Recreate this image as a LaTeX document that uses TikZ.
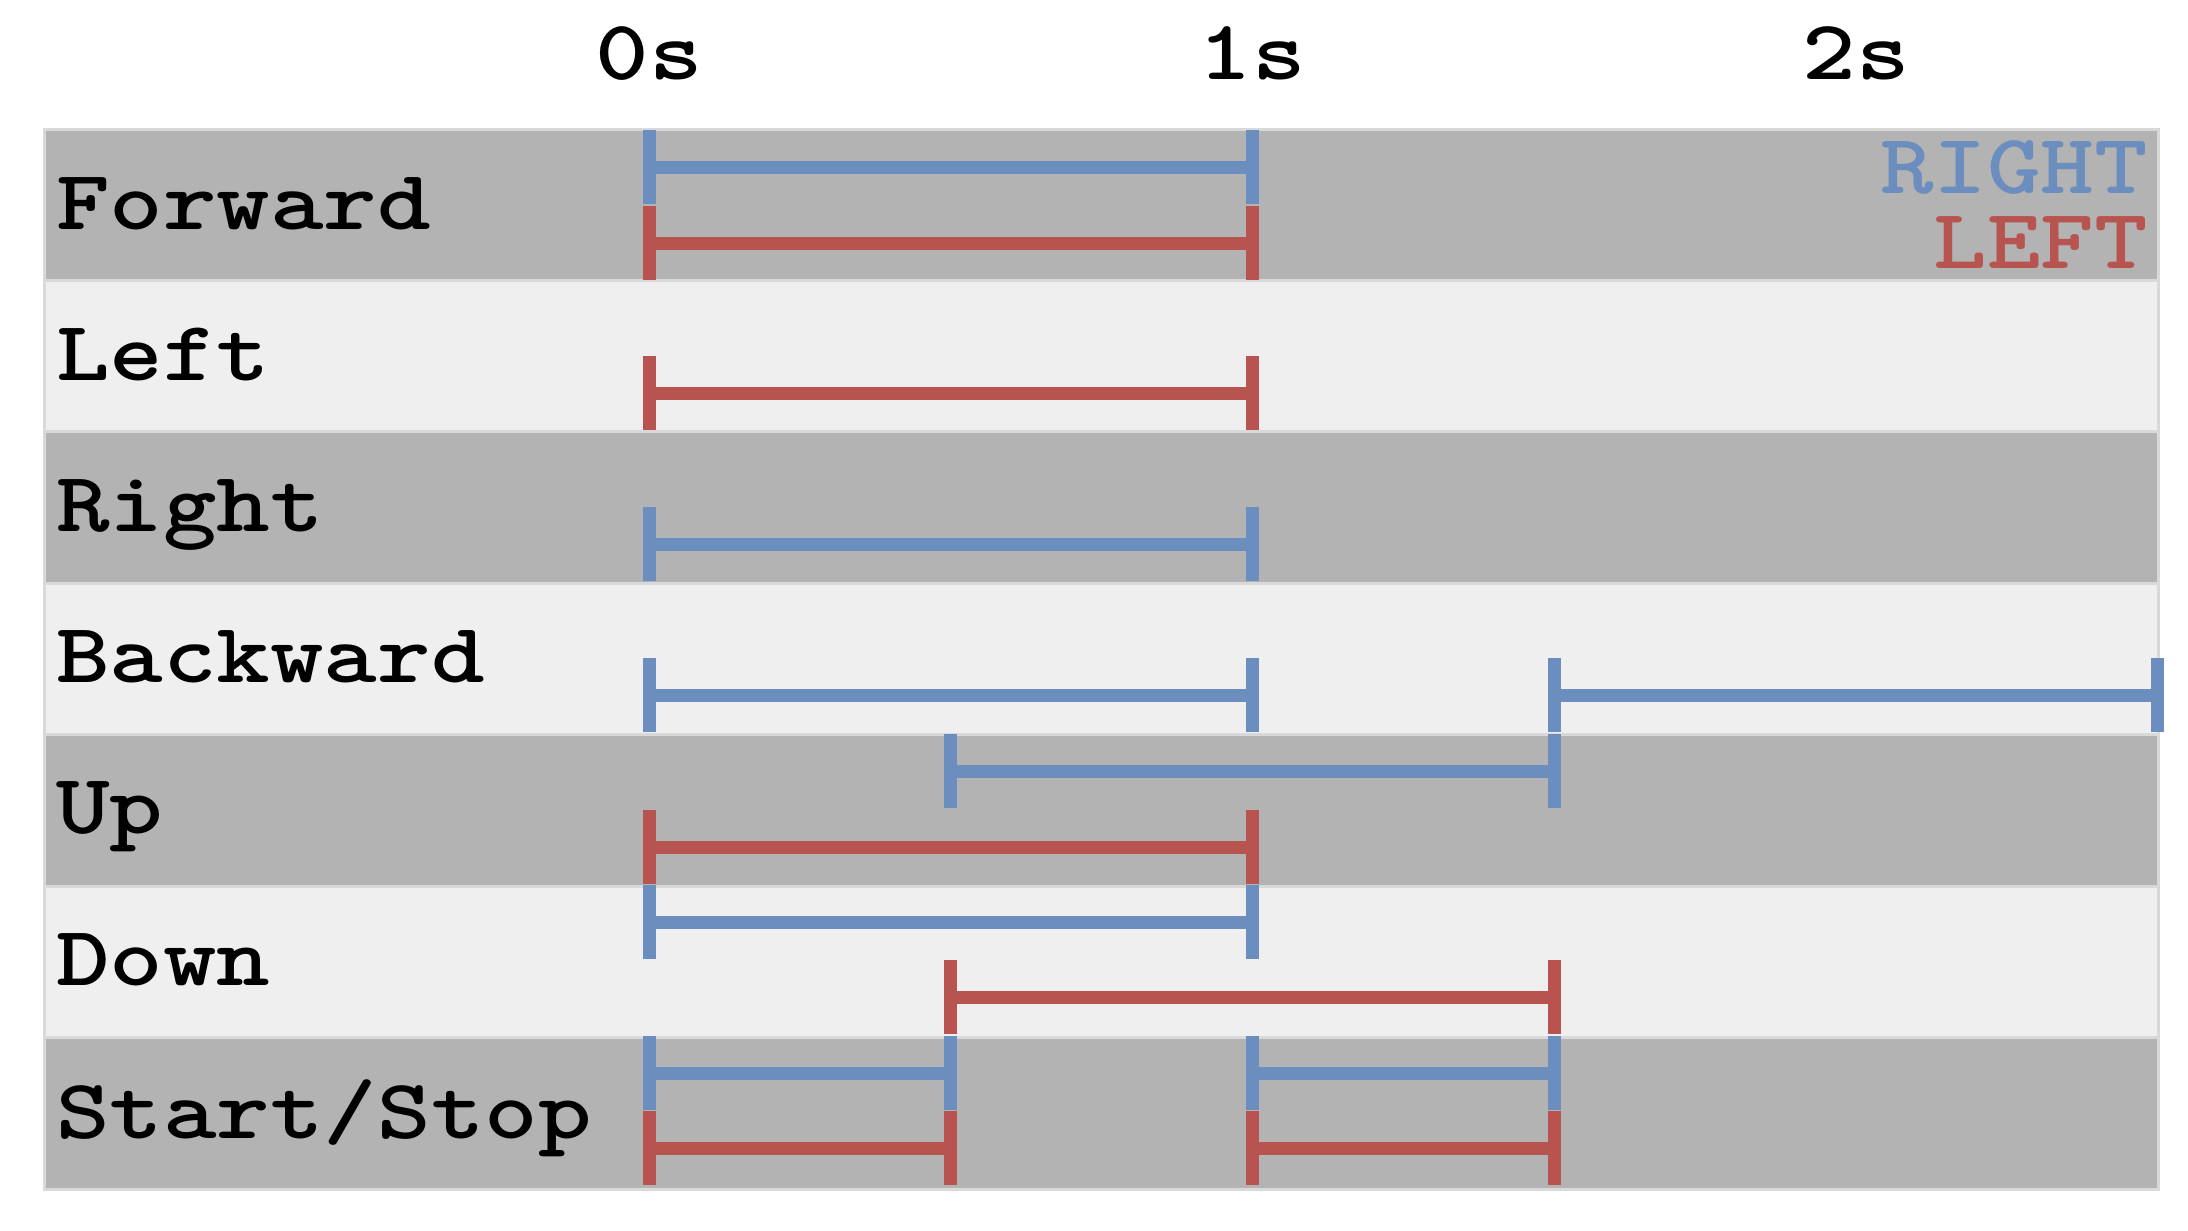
\documentclass[tikz,border=0pt]{standalone}
\usepackage{fontspec}
\usepackage{tikz}
\newfontfamily\chartfont{lmmonolt10-bold.otf}[FakeStretch=1.2]
\definecolor{rightblue}{HTML}{6C8EBF}
\definecolor{leftred}{HTML}{B85450}
\definecolor{banddark}{HTML}{B3B3B3}
\definecolor{bandlight}{HTML}{EFEFEF}
\definecolor{bandedge}{HTML}{D9D9D9}
% time origin and pixels per second
\newcommand{\tz}{649}
\newcommand{\ts}{603.5}
% one interval: style, lane y, start, end (in s)
\newcommand{\tbar}[4]{%
\draw[#1] (\tz+#3*\ts,#2) -- (\tz+#4*\ts,#2);
\draw[#1] (\tz+#3*\ts,#2-37) -- (\tz+#3*\ts,#2+37);
\draw[#1] (\tz+#4*\ts,#2-37) -- (\tz+#4*\ts,#2+37);}

\begin{document}
\begin{tikzpicture}[x=1pt,y=-1pt,
  label/.style={font=\chartfont\fontsize{85}{95}\selectfont,inner sep=0pt},
  darkband/.style={fill=banddark,draw=bandedge,line width=3pt},
  lightband/.style={fill=bandlight,draw=bandedge,line width=3pt},
  rightbar/.style={draw=rightblue,line width=13pt},
  leftbar/.style={draw=leftred,line width=13pt}]
\useasboundingbox[fill=white] (0,0) rectangle (2188,1231);
% Drawing bands
\filldraw[darkband] (44,129.0) rectangle (2158,280.4);
\filldraw[lightband] (44,280.4) rectangle (2158,431.9);
\filldraw[darkband] (44,431.9) rectangle (2158,583.3);
\filldraw[lightband] (44,583.3) rectangle (2158,734.7);
\filldraw[darkband] (44,734.7) rectangle (2158,886.1);
\filldraw[lightband] (44,886.1) rectangle (2158,1037.6);
\filldraw[darkband] (44,1037.6) rectangle (2158,1189.0);
% Time labels
\node[label,anchor=base] (t0) at (\tz,80) {0s};
\node[label,anchor=base] (t1) at (\tz+\ts,80) {1s};
\node[label,anchor=base] (t2) at (\tz+2*\ts,80) {2s};
% Legend
\node[label,anchor=base east,text=rightblue] (kright) at (2148,193) {RIGHT};
\node[label,anchor=base east,text=leftred] (kleft) at (2148,268) {LEFT};
% Row 1: Forward
\node[label,anchor=base west] (forward) at (56,229) {Forward};
\tbar{rightbar}{167}{0}{1}
\tbar{leftbar}{243}{0}{1}
% Row 2: Left
\node[label,anchor=base west] (left) at (56,380) {Left};
\tbar{leftbar}{393}{0}{1}
% Row 3: Right
\node[label,anchor=base west] (right) at (56,531) {Right};
\tbar{rightbar}{544}{0}{1}
% Row 4: Backward
\node[label,anchor=base west] (backward) at (56,682) {Backward};
\tbar{rightbar}{695}{0}{1}
\tbar{rightbar}{695}{1.5}{2.5}
% Row 5: Up
\node[label,anchor=base west] (up) at (56,833) {Up};
\tbar{rightbar}{771}{0.5}{1.5}
\tbar{leftbar}{847}{0}{1}
% Row 6: Down
\node[label,anchor=base west] (down) at (56,985) {Down};
\tbar{rightbar}{922}{0}{1}
\tbar{leftbar}{997}{0.5}{1.5}
% Row 7: Start/Stop
\node[label,anchor=base west] (startstop) at (56,1138) {Start/Stop};
\tbar{rightbar}{1073}{0}{0.5}
\tbar{rightbar}{1073}{1}{1.5}
\tbar{leftbar}{1148}{0}{0.5}
\tbar{leftbar}{1148}{1}{1.5}
\end{tikzpicture}
\end{document}
